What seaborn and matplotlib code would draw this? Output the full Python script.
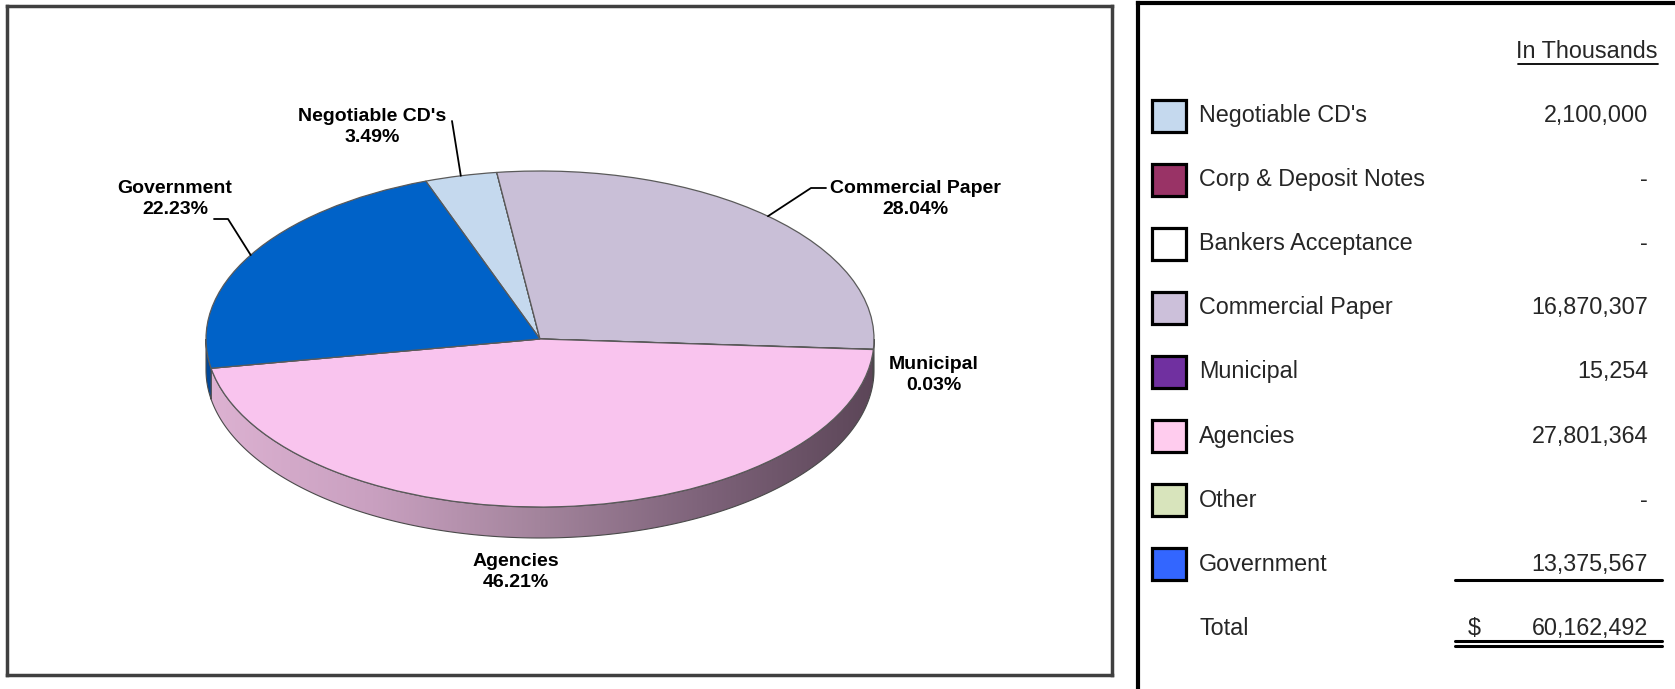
import numpy as np
import matplotlib
matplotlib.use("Agg")
import matplotlib.pyplot as plt
import seaborn as sns
from matplotlib.patches import Polygon, Rectangle
from matplotlib.colors import LinearSegmentedColormap

# ---------------- data ----------------
categories = ["Negotiable CD's", "Corp & Deposit Notes", "Bankers Acceptance",
              "Commercial Paper", "Municipal", "Agencies", "Other", "Government"]
values = [2100000, 0, 0, 16870307, 15254, 27801364, 0, 13375567]
value_labels = ["2,100,000", "-", "-", "16,870,307", "15,254", "27,801,364", "-", "13,375,567"]
total_label = "60,162,492"
pie_colors = ["#C5D9EE", "#993366", "#FFFFFF", "#C9BFD7", "#7030A0", "#F9C4EE", "#D8E4BC", "#0062C8"]
legend_colors = ["#C5D9EE", "#993366", "#FFFFFF", "#CCC0DA", "#7030A0", "#FFCCEE", "#D8E4BC", "#3366FF"]
side_colors = ["#8A9AAA", "#6A2346", "#B0B0B0", "#6B5F72", "#4E2170", None, "#9AA386", "#00489A"]

sns.set_theme(style="white")
plt.rcParams['font.family'] = ['Liberation Sans', 'DejaVu Sans']

W, H = 1675, 689
fig = plt.figure(figsize=(W / 100, H / 100), dpi=100)
fig.patch.set_facecolor("white")


def px_axes(x0, y0, x1, y1):
    return fig.add_axes([x0 / W, 1 - y1 / H, (x1 - x0) / W, (y1 - y0) / H])


# ---------------- pie panel ----------------
ax = px_axes(7, 6, 1112, 675)
A, B = 334.0, 168.0   # pixel semi-axes
depth = 31.0 / B

wedges, _ = ax.pie(values, colors=pie_colors, startangle=110, counterclock=False,
                   radius=1, wedgeprops=dict(edgecolor="#5a5a5a", linewidth=0.9))
for w in wedges:
    w.set_zorder(5)

grad_cmap = LinearSegmentedColormap.from_list(
    "side", ["#DDB2D2", "#C9A0C0", "#A3849C", "#7D6279", "#5C4658"])

# side wall (front half of the pie)
for i, w in enumerate(wedges):
    t1, t2 = w.theta1, w.theta2
    for k in (-1, 0, 1):
        lo, hi = -180 + 360 * k, 0 + 360 * k
        a, b = max(t1, lo), min(t2, hi)
        if b - a <= 1e-6:
            continue
        t = np.radians(np.linspace(a, b, 200))
        up = np.column_stack([np.cos(t), np.sin(t)])
        dn = np.column_stack([np.cos(t), np.sin(t) - depth])[::-1]
        pts = np.vstack([up, dn])
        if side_colors[i] is None:
            poly = Polygon(pts, closed=True, facecolor="none", edgecolor="#4a4a4a",
                           linewidth=0.8, zorder=3)
            ax.add_patch(poly)
            im = ax.imshow(np.linspace(0, 1, 256).reshape(1, -1), cmap=grad_cmap,
                           extent=[-1, 1, -1 - depth, 0], aspect="auto", zorder=2)
            im.set_clip_path(poly)
        else:
            ax.add_patch(Polygon(pts, closed=True, facecolor=side_colors[i],
                                 edgecolor="#4a4a4a", linewidth=0.8, zorder=3))

ax.set_aspect("auto")
ax.set_xlim(-533 / A, 572 / A)
ax.set_ylim(-336 / B, 333 / B)
ax.set_frame_on(True)
ax.set_xticks([])
ax.set_yticks([])
for s in ax.spines.values():
    s.set_visible(True)
    s.set_color("#404040")
    s.set_linewidth(2.5)

# labels
pcts = [v / sum(values) * 100 for v in values]
label_pos = {0: (372, 127), 3: (915, 199), 4: (934, 375), 5: (516, 572), 7: (175, 199)}
for i, (px, py) in label_pos.items():
    ax.text((px - 540) / A, (339 - py) / B, f"{categories[i]}\n{pcts[i]:.2f}%",
            ha="center", va="center", fontsize=14, fontweight="bold",
            linespacing=1.35, color="black", zorder=10)


def mid_point(i):
    w = wedges[i]
    m = np.radians((w.theta1 + w.theta2) / 2)
    return np.cos(m), np.sin(m)


# leader lines
mx, my = mid_point(0)
ax.plot([(452 - 540) / A, mx], [(339 - 121) / B, my], color="black", lw=1.3, zorder=6)
mx, my = mid_point(7)
ax.plot([(214 - 540) / A, (228 - 540) / A, mx], [(339 - 219) / B, (339 - 219) / B, my],
        color="black", lw=1.3, zorder=6)
mx, my = mid_point(3)
ax.plot([(826 - 540) / A, (811 - 540) / A, mx], [(339 - 188) / B, (339 - 188) / B, my],
        color="black", lw=1.3, zorder=6)

# ---------------- table panel ----------------
tx = px_axes(1138, 3, 1675, 689)
tx.set_xlim(1138, 1675)
tx.set_ylim(689, 3)
tx.set_xticks([])
tx.set_yticks([])
for name, s in tx.spines.items():
    s.set_visible(name in ("left", "top"))
    s.set_color("black")
    s.set_linewidth(3)

fs = 16.8
tx.text(1657, 52, "In Thousands", ha="right", va="center", fontsize=fs)
tx.plot([1518, 1658], [64, 64], color="black", lw=1.3)

row0, step = 115.5, 64.1
for i, cat in enumerate(categories):
    y = row0 + i * step
    tx.add_patch(Rectangle((1152, y - 16), 34, 32, facecolor=legend_colors[i],
                           edgecolor="black", linewidth=2.3))
    tx.text(1199, y, cat, ha="left", va="center", fontsize=fs)
    tx.text(1648, y, value_labels[i], ha="right", va="center", fontsize=fs)

ytot = row0 + len(categories) * step
tx.plot([1455, 1662], [ytot - 48, ytot - 48], color="black", lw=2.2)
tx.text(1199, ytot, "Total", ha="left", va="center", fontsize=fs)
tx.text(1474, ytot, "$", ha="center", va="center", fontsize=fs)
tx.text(1648, ytot, total_label, ha="right", va="center", fontsize=fs)
tx.plot([1455, 1662], [ytot + 13, ytot + 13], color="black", lw=2.2)
tx.plot([1455, 1662], [ytot + 18, ytot + 18], color="black", lw=2.2)

fig.savefig("out.png", dpi=100, facecolor="white")
